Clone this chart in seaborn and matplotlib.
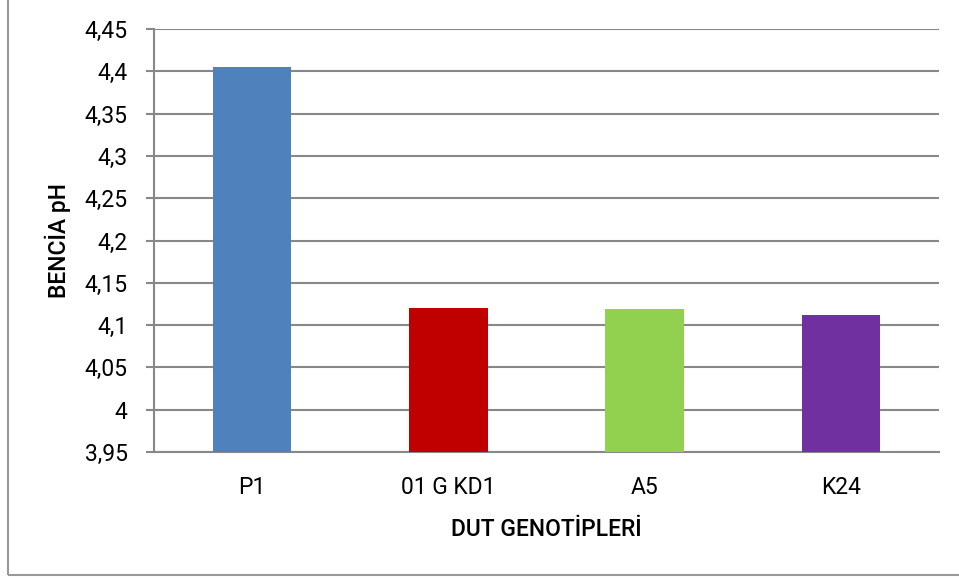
import numpy as np
import pandas as pd
import seaborn as sns
import matplotlib.pyplot as plt
from matplotlib.ticker import FuncFormatter, MultipleLocator
from matplotlib.patches import Rectangle

genotypes = ['P1', '01 G KD1', 'A5', 'K24']
ph_values = [4.405, 4.120, 4.119, 4.112]
bar_colors = ['#4F81BD', '#C00000', '#92D050', '#7030A0']

df = pd.DataFrame({'genotip': genotypes, 'ph': ph_values})

sns.set_style('white')
plt.rcParams['font.family'] = ['Roboto', 'DejaVu Sans']
plt.rcParams['text.color'] = 'black'
plt.rcParams['axes.labelcolor'] = 'black'

fig = plt.figure(figsize=(9.59, 5.78), dpi=100)
ax = fig.add_axes([154 / 959, 1 - 452 / 578, (939 - 154) / 959, (452 - 29) / 578])

sns.barplot(data=df, x='genotip', y='ph', hue='genotip', palette=bar_colors,
            width=0.40, legend=False, saturation=1, linewidth=0, ax=ax, zorder=3)

ax.set_ylim(3.95, 4.45)
ax.yaxis.set_major_locator(MultipleLocator(0.05))
ax.yaxis.set_major_formatter(FuncFormatter(lambda v, p: ('%g' % round(v, 2)).replace('.', ',')))
ax.grid(axis='y', color='#888888', linewidth=1.5, zorder=0)
ax.set_axisbelow(True)

for s in ['top', 'right']:
    ax.spines[s].set_visible(False)
ax.spines['left'].set_color('#888888')
ax.spines['left'].set_linewidth(1.5)
ax.spines['bottom'].set_color('#888888')
ax.spines['bottom'].set_linewidth(1.5)

ax.tick_params(axis='y', which='major', length=6, width=1.5, color='#888888',
               labelcolor='black', labelsize=16.5, pad=13, left=True)
ax.tick_params(axis='x', length=0, labelsize=16.5, labelcolor='black', pad=17)

ax.set_xlabel('DUT GENOTİPLERİ', fontsize=16.5, labelpad=14, fontweight='medium')
ax.set_ylabel('BENCİA pH', fontsize=16.5, labelpad=10, fontweight='medium')

# outer chart border
fig.patches.append(Rectangle((8 / 959, 3 / 578), 1.0, 1.0, transform=fig.transFigure,
                             fill=False, edgecolor='#999999', linewidth=1.5))

fig.savefig('out.png', dpi=100)
